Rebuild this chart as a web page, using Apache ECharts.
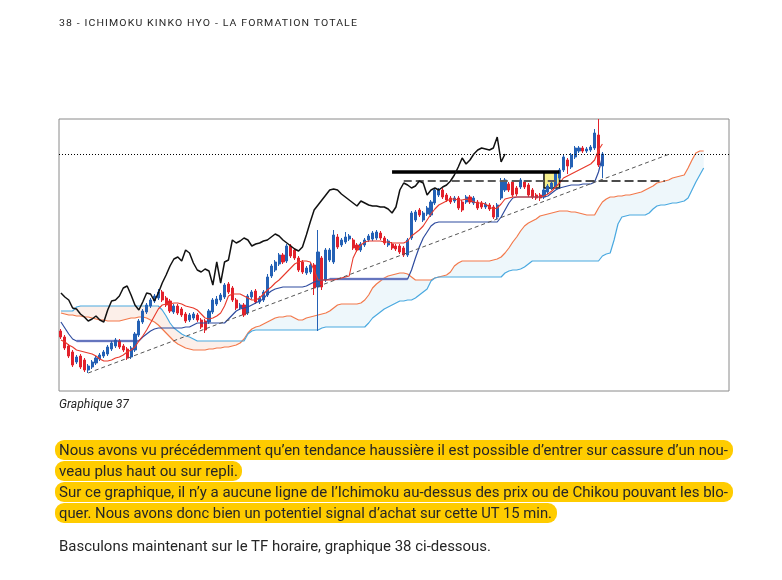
<!DOCTYPE html>
<html>
<head>
<meta charset="utf-8">
<script src="https://cdn.jsdelivr.net/npm/echarts/dist/echarts.min.js"></script>
<style>
  body { margin: 0; background: #fff; overflow: hidden; }
  #page { position: relative; width: 782px; height: 580px; }
  #chart { position: absolute; left: 0; top: 0; width: 782px; height: 580px; }
  .t { position: absolute; left: 59px; white-space: nowrap; color: #262626; font-family: Roboto, "Noto Sans", sans-serif; transform-origin: 0 50%; }
  .head { top: 17px; font-size: 9.5px; line-height: 12px; letter-spacing: 1px; }
  .cap { top: 397px; font-size: 12px; line-height: 14px; font-style: italic; }
  .p { font-size: 15px; line-height: 20px; }
  .hl { position: absolute; left: 55px; height: 20px; background: #ffcc00; border-radius: 9px; }
</style>
</head>
<body>
<div id="page">
  <div id="chart"></div>
  <div class="t head fit" data-w="299">38 - ICHIMOKU KINKO HYO - LA FORMATION TOTALE</div>
  <div class="t cap fit" data-w="70">Graphique 37</div>
  <div class="hl" style="top:440px;width:678px"></div>
  <div class="hl" style="top:461px;width:187px"></div>
  <div class="hl" style="top:482px;width:678px"></div>
  <div class="hl" style="top:503px;width:502px"></div>
  <div class="t p fit" data-w="669" style="top:440px">Nous avons vu précédemment qu’en tendance haussière il est possible d’entrer sur cassure d’un nou-</div>
  <div class="t p fit" data-w="179" style="top:461px">veau plus haut ou sur repli.</div>
  <div class="t p fit" data-w="669" style="top:482px">Sur ce graphique, il n’y a aucune ligne de l’Ichimoku au-dessus des prix ou de Chikou pouvant les blo-</div>
  <div class="t p fit" data-w="493" style="top:503px">quer. Nous avons donc bien un potentiel signal d’achat sur cette UT 15 min.</div>
  <div class="t p fit" data-w="432" style="top:536px">Basculons maintenant sur le TF horaire, graphique 38 ci-dessous.</div>
</div>
<script>
// bougies 15 min : [ouverture, clôture, plus bas, plus haut]
const candles = [
  [69,63,61,71],[63,52,50,65],[54,44,42,56],[48,35,33,50],[38,43,36,45],[44,33,31,46],[40,30,28,42],[30,34,27,36],[33,38,31,40],[37,42,35,44],
  [41,45,39,47],[44,48,42,50],[46,53,44,55],[51,57,49,59],[54,60,52,62],[59,53,51,61],[54,50,48,56],[51,42,40,53],[43,52,41,54],[50,66,48,68],
  [65,79,63,81],[78,89,76,91],[88,95,86,97],[94,100,92,102],[99,104,97,106],[102,108,100,111],[108,100,98,110],[102,95,93,104],[99,89,87,101],[88,94,86,96],
  [94,87,85,96],[91,85,83,93],[86,79,77,88],[80,85,78,87],[82,86,80,88],[85,80,78,87],[80,73,71,82],[79,70,67,81],[78,89,76,91],[88,100,86,102],
  [96,101,94,104],[100,105,98,107],[103,115,101,117],[116,108,106,118],[112,100,98,114],[100,92,90,102],[92,95,90,97],[95,85,83,97],[87,104,85,106],[103,108,101,110],
  [109,98,96,111],[98,102,96,104],[100,108,98,110],[105,123,103,126],[124,134,122,136],[130,138,128,140],[136,145,134,147],[145,138,136,147],[139,154,137,156],[154,144,142,156],
  [150,142,140,152],[142,130,128,144],[138,128,126,140],[127,132,125,134],[128,135,126,137],[135,112,105,137],[113,148,69,170],[142,113,110,144],[120,150,118,152],[140,150,138,152],
  [138,165,136,170],[163,153,151,166],[155,160,153,162],[158,163,156,168],[161,164,159,166],[160,152,150,162],[155,150,148,157],[150,156,148,158],[155,160,153,162],[160,164,158,166],
  [161,167,159,169],[162,168,160,170],[167,162,160,169],[162,157,155,164],[155,159,153,161],[156,152,150,158],[154,151,149,156],[154,148,146,156],[152,145,143,154],[145,160,143,162],
  [162,187,160,189],[180,188,178,190],[190,185,183,192],[180,187,178,189],[186,192,184,194],[185,198,183,200],[197,210,195,212],[205,210,203,212],[210,203,201,212],[205,200,198,207],
  [202,198,196,204],[199,202,197,204],[202,192,190,204],[198,190,188,200],[198,203,196,205],[203,198,196,205],[197,202,195,204],[198,192,190,200],[197,193,191,199],[193,196,191,198],
  [195,191,189,197],[193,183,181,195],[183,195,181,197],[202,218,200,222],[210,220,208,222],[216,210,208,218],[218,205,203,220],[212,206,204,214],[213,220,211,222],[218,213,211,220],
  [215,205,203,217],[210,203,201,212],[205,202,200,207],[205,202,199,207],[203,210,201,212],[208,214,206,216],[212,217,210,219],[213,227,211,229],[222,230,220,232],[230,243,228,245],
  [240,234,226,242],[233,245,231,247],[243,252,241,254],[249,252,247,254],[252,249,247,254],[249,251,247,253],[250,253,248,255],[252,267,250,271],[265,235,233,281],[234,246,222,248]
];

// Tenkan-sen
const tenkan = [
  60,58,55,53,50,49,48,47,46,44, 41,39,39,40,42,43,45,48,50,53,
  59,64,70,77,84,91,95,96,96,97, 97,96,94,93,92,90,86,82,81,82,
  84,87,94,104,106,106,106,104,102,100, 100,102,106,110,113,117,120,124,128,132,
  136,138,139,139,138,130,120,120,120,120, 120,121,122,123,124,142,150,155,158,159,
  159,159,159,158,158,157,157,157,157,159, 164,167,170,174,180,186,191,195,197,199,
  201,201,200,200,201,200,198,197,197,196, 193,191,192,196,201,202,203,203,203,203,
  203,203,203,203,204,206,209,213,217,222, 224,226,228,230,232,234,236,240,250,256
];

// Kijun-sen
const kijun = [
  78,72,66,61,59,59,59,59,59,59, 59,59,59,59,59,59,59,59,59,59,
  59,63,66,69,71,72,72,72,72,72, 72,72,73,73,75,77,77,77,77,77,
  77,77,77,81,85,89,91,92,93,95, 97,99,101,106,109,111,112,113,113,113,
  113,113,113,114,116,118,119,120,120,121, 121,121,121,121,121,121,121,121,121,121,
  121,121,121,121,121,121,121,121,121,121, 130,142,153,162,168,174,177,178,178,178,
  178,178,178,178,178,178,178,178,178,178, 178,178,178,183,190,197,202,203,203,203,
  203,203,203,203,203,204,207,210,212,213, 214,215,215,215,216,216,216,218,228,243
];
// paliers plats de la Kijun (surlignés)
const kijunFlats = [[4, 20], [69, 89]];

// Chikou span (décalée en arrière)
const chikou = [
  107,103,100,92,91,86,83,79,81,84, 80,78,90,99,100,104,112,114,105,95,
  90,98,107,106,99,107,117,125,134,141, 143,139,150,147,137,130,128,131,129,115,
  138,117,138,140,160,157,159,162,160,154, 156,157,159,160,163,166,164,160,157,154,
  151,149,153,165,178,190,195,200,205,210, 211,210,206,203,200,197,194,199,197,195,
  194,194,193,193,191,187,193,210,217,215, 212,214,219,217,205,210,212,210,213,215,
  219,225,233,242,236,240,246,250,252,251, 250,252,263,238,246
];

// Senkou span A / B (décalées en avant)
const senkouA = [
  87,86,85,85,84,84,83,83,82,81, 80,80,79,79,79,79,80,81,82,82,
  83,83,82,80,78,75,71,67,63,59, 56,54,52,51,50,50,50,50,51,51,
  52,52,53,53,54,55,57,61,67,71, 73,74,76,78,80,82,83,83,84,84,
  82,80,80,82,83,84,85,86,87,89, 92,95,96,96,96,96,96,97,100,105,
  112,116,119,122,124,125,126,127,127,126, 123,120,120,120,120,120,122,123,124,125,
  128,134,137,139,139,139,139,139,139,139, 139,140,141,143,147,152,158,163,169,174,
  177,179,181,184,185,186,187,188,189,189, 189,188,188,187,186,185,185,185,192,198,
  201,203,203,204,204,205,205,206,207,208, 210,212,214,217,218,219,220,222,223,224,
  225,232,240,247,249,249
];
const senkouB = [
  89,89,89,89,93,94,94,94,94,94, 94,94,94,94,94,94,94,94,94,94,
  94,94,94,94,94,94,90,84,77,72, 69,66,64,63,61,59,59,59,59,59,
  59,59,59,59,59,59,59,59,66,69, 70,70,70,70,70,70,70,70,70,70,
  70,70,70,70,70,70,70,72,73,73, 73,73,73,73,73,73,73,73,73,77,
  82,85,88,91,93,95,97,99,99,100, 100,102,105,108,111,119,122,123,123,123,
  123,123,123,123,123,123,123,123,123,123, 123,123,123,123,127,129,130,130,131,133,
  136,139,139,139,139,139,139,139,139,139, 139,139,139,139,139,139,139,139,139,144,
  146,147,160,176,183,184,185,185,185,185, 185,187,191,194,195,195,196,197,197,198,
  199,202,210,218,225,232
];

// niveaux tracés à la main sur le graphique
const plusHautLevel = 246;
const resistanceLevel = 228;
const breakoutLevel = 219;
const signalBox = [124, 128, 212, 228];
const trendLine = [[7, 27], [156, 245.6]];

const categories = [];
for (let i = 0; i < 172; i++) categories.push(String(i));

const cloudBase = senkouA.map((a, i) => Math.min(a, senkouB[i]));
const cloudUp = senkouA.map((a, i) => Math.max(a - senkouB[i], 0));
const cloudDown = senkouA.map((a, i) => Math.max(senkouB[i] - a, 0));
const kijunFlat = kijun.map((v, i) => kijunFlats.some(r => i >= r[0] && i <= r[1]) ? v : null);

function lineSeries(name, data, color, width, z) {
  return {
    name: name, type: 'line', data: data, symbol: 'none', silent: true, z: z,
    lineStyle: { color: color, width: width }
  };
}

const chart = echarts.init(document.getElementById('chart'));
const option = {
  animation: false,
  grid: { left: 59, right: 53, top: 119, bottom: 189, show: true, borderColor: '#8a8a8a', borderWidth: 1 },
  xAxis: {
    type: 'category', data: categories, boundaryGap: true,
    axisLine: { show: false }, axisTick: { show: false }, axisLabel: { show: false }, splitLine: { show: false }
  },
  yAxis: {
    type: 'value', min: 9, max: 281,
    axisLine: { show: false }, axisTick: { show: false }, axisLabel: { show: false }, splitLine: { show: false }
  },
  series: [
    { type: 'line', stack: 'kumo', data: cloudBase, symbol: 'none', silent: true, z: 1, lineStyle: { opacity: 0 } },
    { type: 'line', stack: 'kumo', data: cloudUp, symbol: 'none', silent: true, z: 1, lineStyle: { opacity: 0 },
      areaStyle: { color: '#eef7fb', opacity: 1 } },
    { type: 'line', stack: 'kumo', data: cloudDown, symbol: 'none', silent: true, z: 1, lineStyle: { opacity: 0 },
      areaStyle: { color: '#fcefe9', opacity: 1 } },
    lineSeries('Senkou A', senkouA, '#f3794b', 1.2, 2),
    lineSeries('Senkou B', senkouB, '#4aa9e0', 1.2, 2),
    lineSeries('Kijun plate', kijunFlat, '#9c9fdc', 2.6, 2),
    {
      name: 'Prix', type: 'candlestick', data: candles, barWidth: 2.6, z: 3, silent: true,
      itemStyle: { color: '#2461b5', color0: '#e2212b', borderColor: '#2461b5', borderColor0: '#e2212b', borderWidth: 1 }
    },
    lineSeries('Kijun', kijun, '#2f4c9f', 1.2, 4),
    lineSeries('Tenkan', tenkan, '#e8392b', 1.1, 4),
    Object.assign(lineSeries('Chikou', chikou, '#111111', 1.5, 5), {
      markLine: {
        silent: true, symbol: ['none', 'none'], label: { show: false },
        data: [
          { yAxis: plusHautLevel, lineStyle: { color: '#000', width: 1, type: [1, 2] } },
          [{ coord: [85, resistanceLevel], lineStyle: { color: '#000', width: 3.5, type: 'solid' } }, { coord: [128, resistanceLevel] }],
          [{ coord: [88, breakoutLevel], lineStyle: { color: '#5c5c5c', width: 2, type: [8, 4] } }, { coord: [128, breakoutLevel] }],
          [{ coord: [128, breakoutLevel], lineStyle: { color: '#111', width: 1.6, type: [9, 4] } }, { coord: [155, breakoutLevel] }],
          [{ coord: trendLine[0], lineStyle: { color: '#555', width: 1, type: [4, 3] } }, { coord: trendLine[1] }]
        ]
      },
      markArea: {
        silent: true,
        data: [[
          { coord: [signalBox[0], signalBox[3]], itemStyle: { color: '#f5ee8c', borderColor: '#111', borderWidth: 1.5 } },
          { coord: [signalBox[1], signalBox[2]] }
        ]]
      }
    })
  ]
};
chart.setOption(option);

function fitText() {
  document.querySelectorAll('.fit').forEach(el => {
    el.style.transform = 'none';
    const w = el.getBoundingClientRect().width;
    const target = parseFloat(el.dataset.w);
    if (w > 0) el.style.transform = 'scaleX(' + (target / w) + ')';
  });
}
fitText();
if (document.fonts && document.fonts.ready) document.fonts.ready.then(fitText);
</script>
</body>
</html>
